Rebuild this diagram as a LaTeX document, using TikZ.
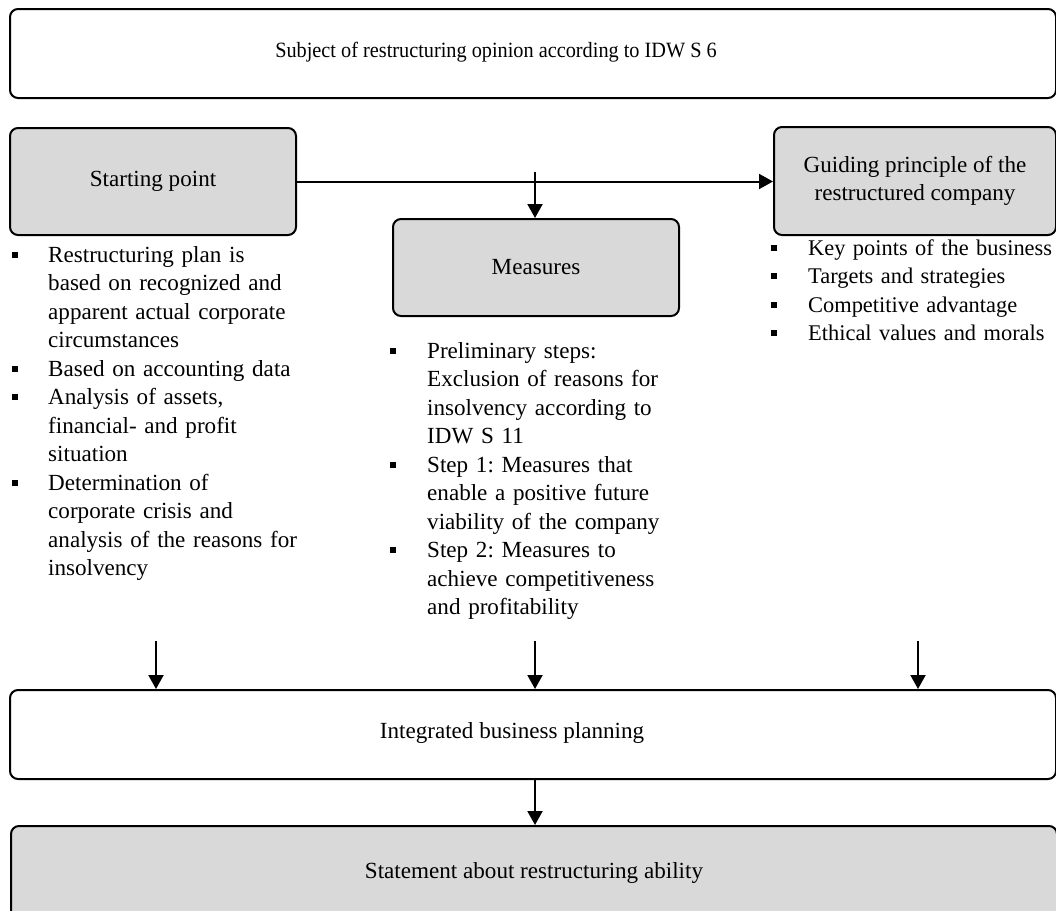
\documentclass[tikz,border=0pt]{standalone}
\usepackage{fontspec}
\setmainfont{Liberation Serif}
\usetikzlibrary{arrows.meta}
\definecolor{boxgray}{HTML}{D9D9D9}
\newcommand{\diagfont}{\frenchspacing\fontsize{23.1}{28.5}\selectfont}
\newcommand{\headfont}{\frenchspacing\fontsize{21.8}{26}\selectfont}
\newcommand{\sidefont}{\frenchspacing\fontsize{22.4}{28.5}\selectfont}
\begin{document}
\begin{tikzpicture}[x=1pt,y=-1pt,
  box/.style={draw=black, line width=2pt, rounded corners=8pt, inner sep=0pt,
    anchor=north west, font=\diagfont, align=center},
  plainbox/.style={box, fill=white},
  shadedbox/.style={box, fill=boxgray},
  lbl/.style={font=\diagfont, inner sep=0pt, align=center},
  itemtext/.style={font=\diagfont, inner sep=0pt,
    anchor=base west, text width=330pt, align=left},
  bul/.style={fill=black, minimum size=6pt, inner sep=0pt},
  arr/.style={line width=2pt, -{Triangle[length=14pt,width=15pt]}},
]
\useasboundingbox (0,0) rectangle (1056,910);
\clip (0,0) rectangle (1056,910);

% boxes
\node[plainbox, minimum width=1046pt, minimum height=89pt] (subject) at (9,8) {};
\node[lbl, font=\headfont] (subjectlbl) at (496,52)
  {\scalebox{0.93}[1]{Subject of restructuring opinion according to IDW S 6}};

\node[shadedbox, minimum width=286pt, minimum height=107pt] (start) at (9,127) {Starting point};
\node[shadedbox, minimum width=282pt, minimum height=108pt] (guide) at (773,126)
  {Guiding principle of the\\restructured company};
\node[shadedbox, minimum width=286pt, minimum height=97pt] (measures) at (392,218) {Measures};

\node[plainbox, minimum width=1046pt, minimum height=89pt] (plan) at (9,689) {};
\node[lbl] (planlbl) at (512,733) {Integrated business planning};

\node[shadedbox, minimum width=1046pt, minimum height=94pt] (statement) at (10,825)
  {Statement about restructuring ability};

% connectors
\draw[arr] (start.east) -- (start.east -| guide.west);
\coordinate (mtop) at (535,172);
\draw[arr] (mtop) -- (mtop |- measures.north);
\coordinate (lin) at (156,641);
\coordinate (min) at (535,641);
\coordinate (rin) at (918,641);
\draw[arr] (lin) -- (lin |- plan.north);
\draw[arr] (min) -- (min |- plan.north);
\draw[arr] (rin) -- (rin |- plan.north);
\draw[arr] (min |- plan.south) -- (min |- statement.north);

% left list
\node[bul] (lb1) at (15,254.5) {};
\node[itemtext] (lt1) at (48,262) {Restructuring plan is\\based on recognized and\\apparent actual corporate\\circumstances};
\node[bul] (lb2) at (15,368.5) {};
\node[itemtext] (lt2) at (48,376) {Based on accounting data};
\node[bul] (lb3) at (15,397) {};
\node[itemtext] (lt3) at (48,404.5) {Analysis of assets,\\financial- and profit\\situation};
\node[bul] (lb4) at (15,482.5) {};
\node[itemtext] (lt4) at (48,490) {Determination of\\corporate crisis and\\analysis of the reasons for\\insolvency};

% middle list
\node[bul] (mb1) at (393,350.5) {};
\node[itemtext] (mt1) at (427,358) {Preliminary steps:\\Exclusion of reasons for\\insolvency according to\\IDW S 11};
\node[bul] (mb2) at (393,464.5) {};
\node[itemtext] (mt2) at (427,472) {Step 1: Measures that\\enable a positive future\\viability of the company};
\node[bul] (mb3) at (393,550) {};
\node[itemtext] (mt3) at (427,557.5) {Step 2: Measures to\\achieve competitiveness\\and profitability};

% right list
\node[bul] (rb1) at (773.5,247.5) {};
\node[itemtext, font=\sidefont] (rt1) at (808,255) {Key points of the business};
\node[bul] (rb2) at (773.5,276) {};
\node[itemtext, font=\sidefont] (rt2) at (808,283.5) {Targets and strategies};
\node[bul] (rb3) at (773.5,304.5) {};
\node[itemtext, font=\sidefont] (rt3) at (808,312) {Competitive advantage};
\node[bul] (rb4) at (773.5,333) {};
\node[itemtext, font=\sidefont] (rt4) at (808,340.5) {Ethical values and morals};
\end{tikzpicture}
\end{document}
